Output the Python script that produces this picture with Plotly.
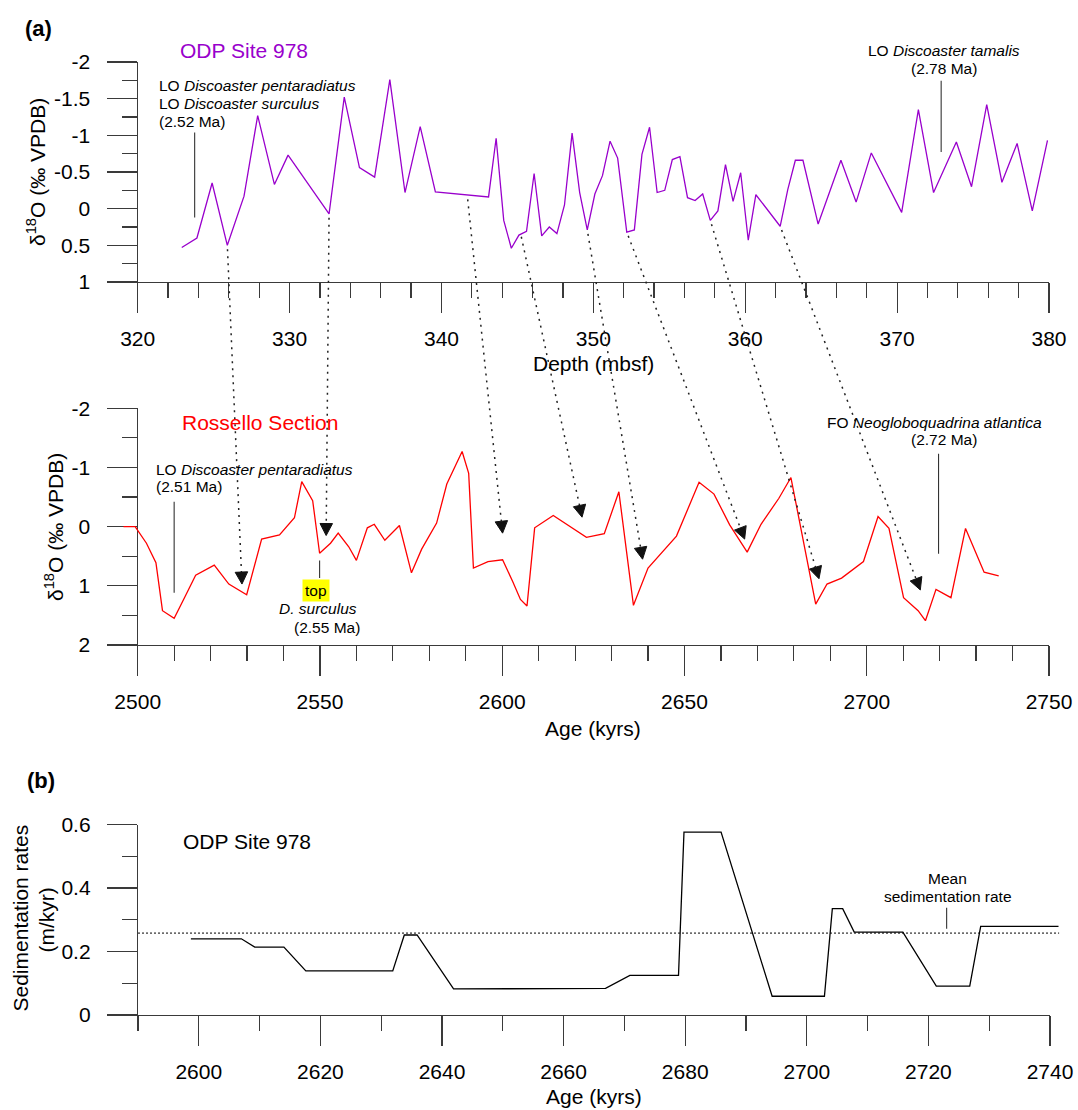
import plotly.graph_objects as go

W, H = 1078, 1110
FONT = "Arial, 'Liberation Sans', Helvetica, sans-serif"
PURPLE = '#9900CC'
RED = '#FF0000'
AXC = '#3a3a3a'

# ---------------- data ----------------
odp_depth = [322.9, 323.9, 324.9, 325.9, 327.0, 327.9, 329.0, 329.9, 332.6, 333.6,
             334.6, 335.6, 336.6, 337.6, 338.6, 339.6, 343.1, 343.6, 344.1, 344.6,
             345.1, 345.6, 346.1, 346.6, 347.1, 347.6, 348.1, 348.6, 349.1, 349.6,
             350.1, 350.6, 351.1, 351.6, 352.2, 352.7, 353.2, 353.7, 354.2, 354.7,
             355.2, 355.7, 356.2, 356.7, 357.2, 357.7, 358.2, 358.7, 359.2, 359.7,
             360.2, 360.7, 362.3, 362.8, 363.3, 363.8, 364.8, 366.3, 367.3, 368.3,
             370.3, 371.4, 372.4, 373.9, 374.9, 375.9, 376.9, 377.9, 378.9, 379.9]
odp_d18o = [0.53, 0.40, -0.35, 0.50, -0.17, -1.27, -0.33, -0.73, 0.07, -1.52,
            -0.56, -0.43, -1.76, -0.22, -1.12, -0.23, -0.16, -0.96, 0.16, 0.54,
            0.36, 0.31, -0.48, 0.37, 0.25, 0.34, -0.05, -1.03, -0.22, 0.29,
            -0.20, -0.45, -0.92, -0.69, 0.32, 0.29, -0.74, -1.11, -0.22, -0.25,
            -0.67, -0.71, -0.15, -0.11, -0.20, 0.16, 0.03, -0.60, -0.10, -0.49,
            0.43, -0.19, 0.24, -0.26, -0.66, -0.66, 0.21, -0.66, -0.09, -0.76,
            0.05, -1.35, -0.22, -0.91, -0.30, -1.42, -0.36, -0.89, 0.03, -0.93]

ros_age = [2496.1, 2499.3, 2502.4, 2505.0, 2506.8, 2510.0, 2513.0, 2515.9, 2521.0, 2525.0,
           2529.9, 2534.0, 2538.9, 2543.0, 2545.0, 2548.0, 2549.9, 2552.9, 2555.0, 2557.9,
           2560.0, 2563.0, 2564.9, 2567.8, 2571.8, 2575.1, 2577.9, 2582.0, 2584.8, 2589.0,
           2590.8, 2592.1, 2596.1, 2600.1, 2602.9, 2605.0, 2606.8, 2608.9, 2614.0, 2623.1,
           2628.0, 2632.0, 2636.0, 2640.0, 2647.8, 2654.0, 2658.1, 2662.4, 2667.2, 2671.0,
           2675.9, 2679.2, 2686.0, 2689.1, 2693.1, 2699.1, 2703.1, 2706.1, 2710.1, 2714.1,
           2716.1, 2719.0, 2723.1, 2727.1, 2732.2, 2736.2]
ros_d18o = [0.0, 0.0, 0.28, 0.61, 1.42, 1.55, 1.18, 0.82, 0.65, 0.97,
            1.15, 0.21, 0.14, -0.15, -0.76, -0.44, 0.45, 0.28, 0.11, 0.34,
            0.57, 0.02, -0.04, 0.23, -0.02, 0.78, 0.38, -0.06, -0.72, -1.27,
            -0.90, 0.70, 0.59, 0.56, 0.93, 1.23, 1.34, 0.02, -0.19, 0.18,
            0.12, -0.59, 1.33, 0.70, 0.16, -0.75, -0.55, -0.03, 0.43, -0.04,
            -0.48, -0.83, 1.31, 0.97, 0.87, 0.59, -0.17, 0.03, 1.20, 1.42,
            1.59, 1.06, 1.20, 0.03, 0.77, 0.83]

sed_age = [2598.7, 2607.0, 2609.2, 2614.0, 2617.6, 2631.9, 2633.8, 2635.9, 2641.9, 2666.9,
           2670.9, 2678.9, 2679.8, 2685.9, 2694.3, 2702.9, 2704.2, 2705.9, 2707.8, 2715.8,
           2721.3, 2726.8, 2728.6, 2741.4]
sed_rate = [0.240, 0.240, 0.214, 0.214, 0.139, 0.139, 0.252, 0.252, 0.082, 0.084,
            0.125, 0.125, 0.576, 0.576, 0.059, 0.059, 0.335, 0.335, 0.261, 0.261,
            0.091, 0.091, 0.279, 0.279]
mean_rate = 0.258

# tie points (ODP depth/d18O -> Rossello age/d18O)
tie_depth = [325.9, 332.6, 341.7, 345.2, 349.6, 352.2, 357.7, 362.3]
tie_depth_d18o = [0.50, 0.07, -0.18, 0.33, 0.29, 0.32, 0.16, 0.24]
tie_age = [2528.6, 2551.7, 2600.1, 2621.9, 2638.5, 2666.5, 2686.9, 2714.7]
tie_age_d18o = [0.97, 0.15, 0.11, -0.16, 0.55, 0.21, 0.88, 1.07]

# biostratigraphic event markers
top_event_depth = [323.75, 372.9]
top_event_span = [(-1.04, 0.12), (-1.745, -0.773)]
mid_event_age = [2510.0, 2549.9, 2719.7]
mid_event_span = [(-0.42, 1.115), (0.574, 0.866), (-1.23, 0.46)]
mean_label_age = 2723.0
mean_label_span = (0.272, 0.338)

# ticks
top_x_ticks = [320, 330, 340, 350, 360, 370, 380]
top_y_ticks = [-2, -1.5, -1, -0.5, 0, 0.5, 1]
top_y_labels = ['-2', '-1.5', '-1', '-0.5', '0', '0.5', '1']
mid_x_ticks = [2500, 2550, 2600, 2650, 2700, 2750]
mid_y_ticks = [-2, -1, 0, 1, 2]
mid_y_labels = ['-2', '-1', '0', '1', '2']
bot_x_ticks = [2600, 2620, 2640, 2660, 2680, 2700, 2720, 2740]
bot_y_ticks = [0, 0.2, 0.4, 0.6]
bot_y_labels = ['0', '0.2', '0.4', '0.6']

# ---------------- layout geometry (pixels) ----------------
P = {
    'top': dict(x0=137.7, x1=1049.0, y0=62.0, y1=282.0, xr=(320, 380), yr=(-2, 1)),
    'mid': dict(x0=137.7, x1=1049.0, y0=408.3, y1=645.0, xr=(2500, 2750), yr=(-2, 2)),
    'bot': dict(x0=138.0, x1=1050.0, y0=824.5, y1=1015.0, xr=(2590, 2740), yr=(0.6, 0)),
}


def xdom(p, x0=None, x1=None):
    return [(p['x0'] if x0 is None else x0) / W, (p['x1'] if x1 is None else x1) / W]


def ydom(p):
    return [1 - p['y1'] / H, 1 - p['y0'] / H]


def xscale(p):
    return (p['x1'] - p['x0']) / (p['xr'][1] - p['xr'][0])


def to_px(p, xv, yv):
    x = p['x0'] + (xv - p['xr'][0]) * xscale(p)
    y = p['y0'] + (yv - p['yr'][0]) / (p['yr'][1] - p['yr'][0]) * (p['y1'] - p['y0'])
    return x, y


def pp(x, y):
    return x / W, 1 - y / H


def axis_common(**kw):
    d = dict(showline=True, linecolor=AXC, linewidth=1.2, ticks='outside', ticklen=30,
             tickwidth=1.2, tickcolor=AXC, showgrid=False, zeroline=False, automargin=False,
             tickfont=dict(size=21, color='black', family=FONT), fixedrange=True)
    d.update(kw)
    return d


def minor(tick0, dtick):
    return dict(tickmode='linear', tick0=tick0, dtick=dtick, ticks='outside', ticklen=15,
                tickwidth=1.2, tickcolor=AXC, showgrid=False)


fig = go.Figure()

# data traces
fig.add_trace(go.Scatter(x=odp_depth, y=odp_d18o, xaxis='x', yaxis='y', mode='lines',
                         line=dict(color=PURPLE, width=1.3), showlegend=False, hoverinfo='skip'))
fig.add_trace(go.Scatter(x=ros_age, y=ros_d18o, xaxis='x4', yaxis='y2', mode='lines',
                         line=dict(color=RED, width=1.3), showlegend=False, hoverinfo='skip'))
fig.add_trace(go.Scatter(x=[P['bot']['xr'][0], sed_age[-1] + 0.1], y=[mean_rate, mean_rate],
                         xaxis='x5', yaxis='y3', mode='lines',
                         line=dict(color='black', width=1, dash='2px,2px'),
                         showlegend=False, hoverinfo='skip'))
fig.add_trace(go.Scatter(x=sed_age, y=sed_rate, xaxis='x5', yaxis='y3', mode='lines',
                         line=dict(color='black', width=1.3), showlegend=False, hoverinfo='skip'))

top, mid, bot = P['top'], P['mid'], P['bot']
mid_ext0 = 2494
bot_ext1 = 2743

layout = dict(
    width=W, height=H, autosize=False,
    margin=dict(l=0, r=0, t=0, b=0, pad=0, autoexpand=False),
    paper_bgcolor='white', plot_bgcolor='rgba(0,0,0,0)',
    font=dict(family=FONT, color='black'),
    showlegend=False,
    xaxis=axis_common(domain=xdom(top), range=list(top['xr']), anchor='y',
                      tickmode='array', tickvals=top_x_ticks, ticklabelstandoff=8,
                      minor=minor(320, 2)),
    yaxis=axis_common(domain=ydom(top), range=[top['yr'][1], top['yr'][0]], anchor='x',
                      tickmode='array', tickvals=top_y_ticks, ticktext=top_y_labels,
                      ticklabelstandoff=12, minor=minor(-2, 0.25)),
    xaxis2=axis_common(domain=xdom(mid), range=list(mid['xr']), anchor='y2',
                       tickmode='array', tickvals=mid_x_ticks, ticklabelstandoff=8,
                       minor=minor(2500, 10)),
    yaxis2=axis_common(domain=ydom(mid), range=[mid['yr'][1], mid['yr'][0]], anchor='x2',
                       tickmode='array', tickvals=mid_y_ticks, ticktext=mid_y_labels,
                       ticklabelstandoff=12, minor=minor(-2, 0.5)),
    xaxis3=axis_common(domain=xdom(bot), range=list(bot['xr']), anchor='y3',
                       tickmode='array', tickvals=bot_x_ticks, ticklabelstandoff=8,
                       minor=minor(2590, 10)),
    yaxis3=axis_common(domain=ydom(bot), range=[bot['yr'][1], bot['yr'][0]], anchor='x3',
                       tickmode='array', tickvals=bot_y_ticks, ticktext=bot_y_labels,
                       ticklabelstandoff=12, minor=minor(0, 0.1)),
    xaxis4=dict(domain=xdom(mid, x0=mid['x0'] + (mid_ext0 - mid['xr'][0]) * xscale(mid)),
                range=[mid_ext0, mid['xr'][1]], anchor='y2', visible=False, fixedrange=True,
                automargin=False),
    xaxis5=dict(domain=xdom(bot, x1=bot['x1'] + (bot_ext1 - bot['xr'][1]) * xscale(bot)),
                range=[bot['xr'][0], bot_ext1], anchor='y3', visible=False, fixedrange=True,
                automargin=False),
)

shapes = []
# event marker lines
for d, (a, b) in zip(top_event_depth, top_event_span):
    shapes.append(dict(type='line', xref='x', yref='y', x0=d, x1=d, y0=a, y1=b,
                       line=dict(color='#333333', width=1.1)))
for d, (a, b) in zip(mid_event_age, mid_event_span):
    shapes.append(dict(type='line', xref='x2', yref='y2', x0=d, x1=d, y0=a, y1=b,
                       line=dict(color='#333333', width=1.1)))
shapes.append(dict(type='line', xref='x3', yref='y3', x0=mean_label_age, x1=mean_label_age,
                   y0=mean_label_span[0], y1=mean_label_span[1],
                   line=dict(color='#333333', width=1.1)))

# tie-point dotted arrows between the two panels
HEAD_L, HEAD_W = 12.0, 12.5
for d, v, a, u in zip(tie_depth, tie_depth_d18o, tie_age, tie_age_d18o):
    sx, sy = to_px(top, d, v)
    tx, ty = to_px(mid, a, u)
    dx, dy = tx - sx, ty - sy
    ln = (dx * dx + dy * dy) ** 0.5
    ux, uy = dx / ln, dy / ln
    nx, ny = -uy, ux
    bx, by = tx - HEAD_L * ux, ty - HEAD_L * uy
    sx2, sy2 = sx + 4 * ux, sy + 4 * uy
    p0 = pp(sx2, sy2)
    p1 = pp(bx, by)
    shapes.append(dict(type='line', xref='paper', yref='paper', x0=p0[0], y0=p0[1],
                       x1=p1[0], y1=p1[1], line=dict(color='#222222', width=1.5, dash='2px,5px')))
    v1 = pp(tx, ty)
    v2 = pp(bx + nx * HEAD_W / 2, by + ny * HEAD_W / 2)
    v3 = pp(bx - nx * HEAD_W / 2, by - ny * HEAD_W / 2)
    path = 'M{:.5f},{:.5f} L{:.5f},{:.5f} L{:.5f},{:.5f} Z'.format(v1[0], v1[1], v2[0], v2[1], v3[0], v3[1])
    shapes.append(dict(type='path', xref='paper', yref='paper', path=path,
                       fillcolor='#111111', line=dict(color='#111111', width=1)))

layout['shapes'] = shapes


def ann(text, x, y, size=15.5, color='black', xanchor='left', angle=0, bg=None, pad=1):
    px, py = pp(x, y)
    d = dict(text=text, x=px, y=py, xref='paper', yref='paper', showarrow=False,
             xanchor=xanchor, yanchor='middle', textangle=angle,
             font=dict(size=size, color=color, family=FONT), borderpad=pad)
    if bg:
        d['bgcolor'] = bg
    return d


annotations = [
    ann('<b>(a)</b>', 38, 29, size=22, xanchor='center'),
    ann('ODP Site 978', 178, 51, size=21, color=PURPLE),
    ann('LO <i>Discoaster pentaradiatus</i>', 156.5, 86),
    ann('LO <i>Discoaster surculus</i>', 156.5, 103.5),
    ann('(2.52 Ma)', 156.5, 121.5),
    ann('LO <i>Discoaster tamalis</i>', 944, 50.5, xanchor='center'),
    ann('(2.78 Ma)', 944, 68, xanchor='center'),
    ann('Depth (mbsf)', 593, 363, size=21, xanchor='center'),
    ann('δ<sup>18</sup>O (‰ VPDB)', 36, 172, size=21, xanchor='center', angle=-90),

    ann('Rossello Section', 180, 422, size=21, color=RED),
    ann('LO <i>Discoaster pentaradiatus</i>', 154, 469.5),
    ann('(2.51 Ma)', 154, 487),
    ann('top', 316, 590, xanchor='center', bg='#FFFF00', pad=2),
    ann('<i>D. surculus</i>', 276.5, 608.5),
    ann('(2.55 Ma)', 291.5, 627),
    ann('FO <i>Neogloboquadrina atlantica</i>', 824.5, 422),
    ann('(2.72 Ma)', 943.5, 439.5, xanchor='center'),
    ann('Age (kyrs)', 593, 728, size=21, xanchor='center'),
    ann('δ<sup>18</sup>O (‰ VPDB)', 54, 527, size=21, xanchor='center', angle=-90),

    ann('<b>(b)</b>', 40.5, 780, size=22, xanchor='center'),
    ann('ODP Site 978', 180.5, 841, size=21),
    ann('Mean', 947.5, 878, xanchor='center'),
    ann('sedimentation rate', 947.5, 896, xanchor='center'),
    ann('Age (kyrs)', 594, 1096, size=21, xanchor='center'),
    ann('Sedimentation rates', 20, 918.5, size=21, xanchor='center', angle=-90),
    ann('(m/kyr)', 45.5, 920, size=21, xanchor='center', angle=-90),
]
layout['annotations'] = annotations

fig.update_layout(**layout)

fig.write_html("out.html", config={'displayModeBar': False, 'staticPlot': True},
               post_script="document.body.style.margin='0';document.body.style.overflow='hidden';")
